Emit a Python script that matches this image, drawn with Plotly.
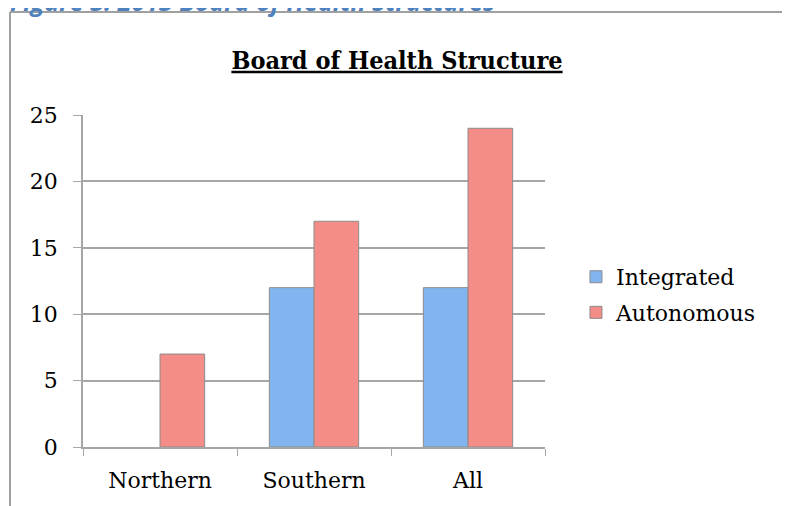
import plotly.graph_objects as go

# 데이터
regions = ["Northern", "Southern", "All"]
integrated = [None, 12, 12]
autonomous = [7, 17, 24]

C_BLUE = "#82b5ef"
C_RED = "#f48c87"
C_EDGE = "#8c8c8c"
C_GRID = "#a6a6a6"
FONT = "DejaVu Serif"

fig = go.Figure()
fig.add_trace(go.Bar(x=regions, y=integrated, name="Integrated", legendgroup="a",
                     marker=dict(color=C_BLUE, line=dict(color=C_EDGE, width=1))))
fig.add_trace(go.Bar(x=regions, y=autonomous, name="Autonomous", legendgroup="b",
                     marker=dict(color=C_RED, line=dict(color=C_EDGE, width=1))))

# 바깥 테두리
fig.add_shape(type="line", xref="paper", yref="paper", x0=-0.158, x1=1.7,
              y0=1.31, y1=1.31, line=dict(color="#a0a0a0", width=2))
fig.add_shape(type="line", xref="paper", yref="paper", x0=-0.158, x1=-0.158,
              y0=1.31, y1=-0.3, line=dict(color="#a0a0a0", width=2))

# 잘린 그림 캡션
fig.add_annotation(text="<b><i>Figure 3: 2013 Board of Health Structures</i></b>",
                   xref="paper", yref="paper", x=-0.162, y=1.31, xanchor="left",
                   yanchor="bottom", yshift=-8, showarrow=False,
                   font=dict(family="Open Sans", size=25, color="#4f81bd"))

fig.update_layout(
    width=782, height=498,
    margin=dict(l=75, r=245, t=107, b=59),
    paper_bgcolor="white", plot_bgcolor="white",
    barmode="group", bargap=0.42, bargroupgap=0,
    font=dict(family=FONT, size=22, color="black"),
    title=dict(text="<b><u>Board of Health Structure</u></b>", x=389 / 782, xref="container",
               y=1 - 52 / 498, yref="container", xanchor="center", yanchor="middle",
               font=dict(family="DejaVu Serif Condensed, DejaVu Serif", size=25, color="black")),
    legend=dict(x=1.067, y=0.458, xanchor="left", yanchor="middle",
                tracegroupgap=4, font=dict(size=22), itemwidth=30),
)
fig.update_yaxes(range=[0, 25], dtick=5, showgrid=True, gridcolor=C_GRID, gridwidth=1.5,
                 showline=True, linecolor=C_GRID, linewidth=1.5,
                 ticks="outside", ticklen=8, tickcolor=C_GRID, zeroline=False,
                 ticklabelstandoff=11)
fig.update_xaxes(showline=True, linecolor=C_GRID, linewidth=1.5, tickson="boundaries",
                 ticks="outside", ticklen=7, tickcolor=C_GRID, ticklabelstandoff=13)

fig.write_html("out.html")
